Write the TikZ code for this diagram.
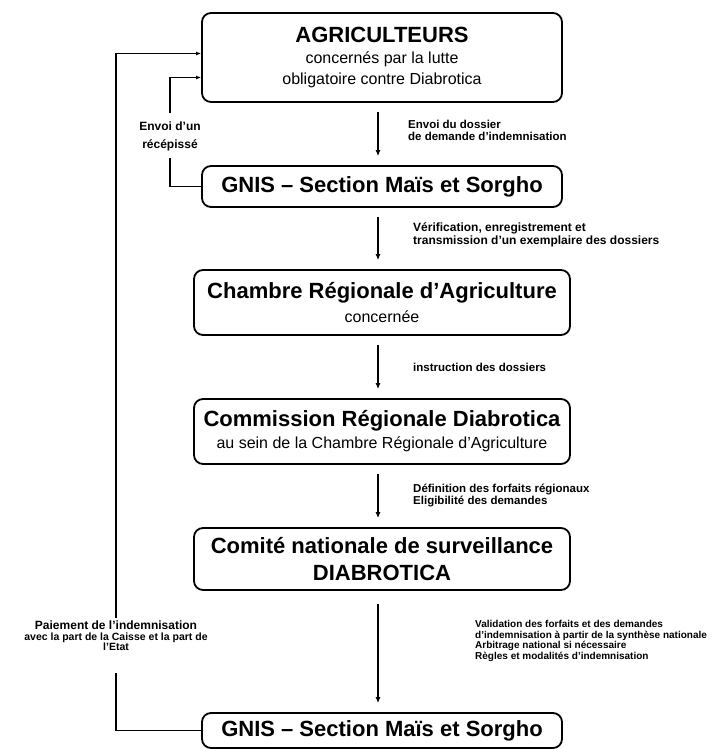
\documentclass[tikz,border=0pt]{standalone}
\usepackage{fontspec}
\setmainfont{Liberation Sans}
\usetikzlibrary{arrows.meta}
\newcommand\boxtitle{\fontsize{22}{24}\selectfont\bfseries}
\begin{document}
\begin{tikzpicture}[x=1pt,y=-1pt]

      \tikzset{box/.style={draw, rounded corners=9pt, line width=1.8pt, align=center, inner sep=0pt, font=\fontsize{16}{21}\selectfont},
               flow/.style={line width=1.1pt, -{Latex[length=6pt,width=5pt]}, shorten <=9pt, shorten >=9pt},
               loop/.style={line width=1.1pt},
               note/.style={anchor=west, align=left, inner sep=0pt, font=\bfseries\fontsize{11.5}{12}\selectfont}}
      \useasboundingbox (0,0) rectangle (712,749);
%% Boxes
      	\node[box, minimum width=360pt, minimum height=89pt] (agri) at (382,57.5) {{\boxtitle AGRICULTEURS}\\concernés par la lutte\\obligatoire contre Diabrotica};
      	\node[box, minimum width=360pt, minimum height=41pt] (gnis1) at (382,186.5) {\boxtitle GNIS – Section Maïs et Sorgho};
      	\node[box, minimum width=376pt, minimum height=65pt] (chambre) at (382,302.5) {{\boxtitle Chambre Régionale d'Agriculture}\\[3pt]concernée};
      	\node[box, minimum width=376pt, minimum height=65pt] (commission) at (382,431.5) {{\boxtitle Commission Régionale Diabrotica}\\[1pt]au sein de la Chambre Régionale d'Agriculture};
      	\node[box, minimum width=376pt, minimum height=62pt] (comite) at (382,559) {{\boxtitle Comité nationale de surveillance}\\[6pt]{\boxtitle DIABROTICA}};
      	\node[box, minimum width=360pt, minimum height=35pt] (gnis2) at (382,730.5) {\boxtitle GNIS – Section Maïs et Sorgho};
%% Labels
      	\node[note] (envoi) at (408,130.5) {Envoi du dossier\\de demande d'indemnisation};
      	\node[note, font=\bfseries\fontsize{12}{13}\selectfont] (verif) at (413,234.5) {Vérification, enregistrement et\\transmission d'un exemplaire des dossiers};
      	\node[note] (instr) at (413,367) {instruction des dossiers};
      	\node[note] (defin) at (413,495) {Définition des forfaits régionaux\\Eligibilité des demandes};
      	\node[note, font=\bfseries\fontsize{10}{10.7}\selectfont] (valid) at (475,641) {Validation des forfaits et des demandes\\d'indemnisation à partir de la synthèse nationale\\Arbitrage national si nécessaire\\Règles et modalités d'indemnisation};
      	\node[align=center, inner sep=0pt, font=\bfseries\fontsize{12}{18}\selectfont] (recu) at (170,136) {Envoi d'un\\récépissé};
      	\node[align=center, inner sep=0pt, font=\bfseries\fontsize{10.5}{10.5}\selectfont] (paie) at (116,636) {{\fontsize{12}{12}\selectfont Paiement de l'indemnisation}\\avec la part de la Caisse et la part de\\l'Etat};
%Arrows
		\draw[flow] ([xshift=-4pt]agri.south) -- ([xshift=-4pt]gnis1.north);
		\draw[flow] ([xshift=-4pt]gnis1.south) -- ([xshift=-4pt]chambre.north);
		\draw[flow] ([xshift=-4pt]chambre.south) -- ([xshift=-4pt]commission.north);
		\draw[flow] ([xshift=-4pt]commission.south) -- ([xshift=-4pt]comite.north);
		\draw[flow, shorten <=13pt] ([xshift=-4pt]comite.south) -- ([xshift=-4pt]gnis2.north);
%Return lines
		\draw[loop] (gnis1.west) -| ([yshift=-7pt]recu.south);
		\draw[loop, -{Latex[length=5pt,width=4pt]}] ([yshift=8pt]recu.north) |- ([yshift=-20pt]agri.west);
		\draw[loop] (gnis2.west) -| ([yshift=-22pt]paie.south);
		\draw[loop, -{Latex[length=5pt,width=4pt]}] ([yshift=3pt]paie.north) |- ([yshift=4pt]agri.west);

	\end{tikzpicture}
\end{document}
